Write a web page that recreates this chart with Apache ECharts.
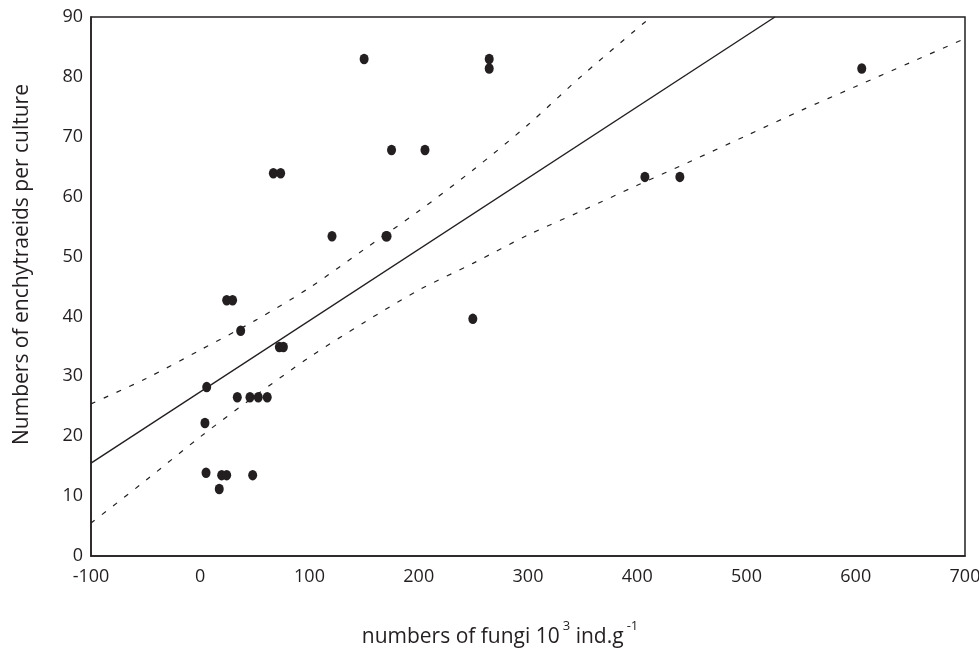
<!DOCTYPE html>
<html>
<head>
<meta charset="utf-8">
<script src="https://cdn.jsdelivr.net/npm/echarts@6/dist/echarts.min.js"></script>
<style>html,body{margin:0;padding:0;background:#fff;}#c{width:979px;height:648px;}</style>
</head>
<body>
<div id="c"></div>
<script>
// Observed points
const fungiX = [150, 264.5, 264.5, 605.5, 66.9, 73.6, 175.1, 205.7, 120.6, 170, 171, 24.2, 29.6, 37, 72.4, 76.1, 249.5, 5.9, 33.9, 45.5, 53.1, 61.3, 4.3, 5.3, 19.6, 24.2, 48, 17.4, 407, 439];
const enchY  = [83.0, 83.0, 81.4, 81.4, 63.9, 63.9, 67.8, 67.8, 53.4, 53.4, 53.4, 42.7, 42.7, 37.6, 34.9, 34.9, 39.6, 28.2, 26.5, 26.5, 26.5, 26.5, 22.2, 13.9, 13.5, 13.5, 13.5, 11.2, 63.3, 63.3];
// Regression line
const fitX = [-100, 526];
const fitY = [15.5, 90];
// Upper confidence band
const upX = [-100, -50, 0, 50, 100, 150, 200, 250, 300, 350, 412.6];
const upY = [25.4, 29.6, 34.4, 39.3, 44.8, 51.2, 57.6, 64.5, 72.0, 80.3, 90];
// Lower confidence band
const loX = [-100, -50, 0, 50, 100, 150, 200, 250, 300, 350, 400, 450, 500, 550, 600, 650, 700];
const loY = [5.5, 12.6, 19.9, 26.7, 33.2, 39.0, 44.4, 48.9, 53.6, 57.7, 61.9, 66.0, 70.2, 74.4, 78.4, 82.4, 86.4];
// Axis ticks
const xTicks = {min: -100, max: 700, interval: 100};
const yTicks = {min: 0, max: 90, interval: 10};

const zip = (a, b) => a.map((v, i) => [v, b[i]]);
const ink = '#231f20';
const font = 'Open Sans';

const chart = echarts.init(document.getElementById('c'));
chart.setOption({
  animation: false,
  backgroundColor: '#fff',
  grid: {left: 91, right: 14, top: 17, bottom: 92, containLabel: false, outerBoundsMode: 'none',
         show: true, borderColor: ink, borderWidth: 1.5, backgroundColor: 'transparent'},
  xAxis: {
    type: 'value', min: xTicks.min, max: xTicks.max, interval: xTicks.interval,
    splitLine: {show: false}, axisTick: {show: false},
    axisLine: {show: true, onZero: false, lineStyle: {color: ink, width: 1.5}},
    axisLabel: {color: ink, fontSize: 18, fontFamily: font, margin: 12},
    name: '{a|numbers of fungi 10}{s|3}{a| ind.g}{s|-1}',
    nameLocation: 'middle', nameGap: 64,
    nameTextStyle: {
      padding: [0, 56, 0, 0],
      rich: {
        a: {fontSize: 21, fontFamily: font, color: ink, verticalAlign: 'bottom', lineHeight: 28},
        s: {fontSize: 13, fontFamily: font, color: ink, verticalAlign: 'top', lineHeight: 28, padding: [0, 0, 12, 3]}
      }
    }
  },
  yAxis: {
    type: 'value', min: yTicks.min, max: yTicks.max, interval: yTicks.interval,
    splitLine: {show: false}, axisTick: {show: false},
    axisLine: {show: true, onZero: false, lineStyle: {color: ink, width: 1.5}},
    axisLabel: {color: ink, fontSize: 18, fontFamily: font, margin: 8},
    name: 'Numbers of enchytraeids per culture',
    nameLocation: 'middle', nameGap: 58,
    nameTextStyle: {fontSize: 21, fontFamily: font, color: ink, padding: [0, 0, 0, 44]}
  },
  series: [
    {type: 'line', data: zip(fitX, fitY), symbol: 'none', lineStyle: {color: ink, width: 1.4}, silent: true},
    {type: 'line', data: zip(upX, upY), symbol: 'none', smooth: 0.3, lineStyle: {color: ink, width: 1.2, type: [5, 9]}, silent: true},
    {type: 'line', data: zip(loX, loY), symbol: 'none', smooth: 0.3, lineStyle: {color: ink, width: 1.2, type: [5, 9]}, silent: true},
    {type: 'scatter', data: zip(fungiX, enchY), symbol: 'circle', symbolSize: [9, 10.5], itemStyle: {color: ink, opacity: 1}, z: 5}
  ]
});
</script>
</body>
</html>
